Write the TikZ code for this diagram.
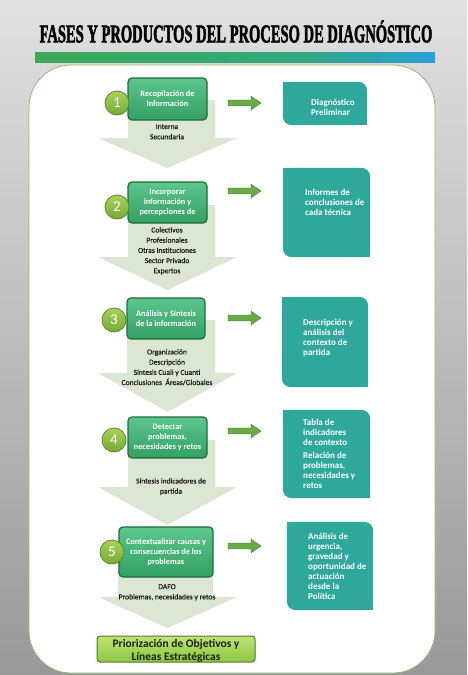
\documentclass[tikz,border=0pt]{standalone}
\usepackage{graphicx}
\usepackage{fontspec}
\setmainfont{Carlito}
\newfontfamily\titlefont[FakeBold=2.6]{Liberation Serif}
\newfontfamily\semib[FakeBold=0.35]{Carlito}
\definecolor{tealc}{HTML}{2FA89C}
\definecolor{arrowc}{HTML}{DCE7D3}
\definecolor{stepfill}{HTML}{33A064}
\definecolor{steptop}{HTML}{5CC68C}
\definecolor{stepdraw}{HTML}{1E6B3C}
\definecolor{rgreen}{HTML}{6AAB48}
\definecolor{rgreendraw}{HTML}{4C8B36}
\definecolor{panelb}{HTML}{8DBB6E}
\definecolor{limetop}{HTML}{BDE575}
\definecolor{limebot}{HTML}{8CC63F}
\definecolor{limedraw}{HTML}{4F7F24}
\definecolor{circtop}{HTML}{A9D15A}
\definecolor{circbot}{HTML}{76AA34}
\definecolor{circdraw}{HTML}{5B8A2A}
\definecolor{bargreen}{HTML}{3AA855}
\definecolor{barmid}{HTML}{2FA87C}
\definecolor{barblue}{HTML}{2A9ED8}
\newcommand\dnarrow[5]{\fill[arrowc] (#1,#3) -- (#2,#3) -- (#2,#4) -- (237,#4) -- (167.5,#5) -- (98,#4) -- (#1,#4) -- cycle;}
\newcommand\rtarrow[1]{\filldraw[fill=rgreen, draw=rgreendraw, line width=.5] (228,#1-2.8) -- (251,#1-2.8) -- (251,#1-6.8) -- (261,#1) -- (251,#1+6.8) -- (251,#1+2.8) -- (228,#1+2.8) -- cycle;}
\newcommand\tealshape[1]{\fill[tealc, rounded corners=9] (#1.north west) rectangle (#1.south east);
  \fill[tealc] (#1.north west) rectangle ++(10,10);
  \fill[tealc] (#1.south east) rectangle ++(-10,-10);}
\begin{document}
\begin{tikzpicture}[x=1pt,y=-1pt,
  stepbox/.style={rounded corners=4pt, draw=stepdraw, line width=1.2pt, top color=steptop, bottom color=stepfill, text=white, font=\bfseries\fontsize{8.3}{10}\selectfont, align=center, inner sep=0pt},
  numcirc/.style={circle, minimum size=24, inner sep=0pt, draw=circdraw, line width=.8pt, top color=circtop, bottom color=circbot, text=white, font=\fontsize{15}{15}\selectfont},
  undertxt/.style={font=\semib\fontsize{7.6}{10.2}\selectfont, text=black!90, align=center, inner sep=0pt, anchor=north},
  tealbox/.style={inner sep=0pt},
  tealtxt/.style={font=\bfseries\fontsize{9}{10}\selectfont, text=white, align=left, inner sep=0pt, anchor=north west},
  finbox/.style={rounded corners=3pt, draw=limedraw, line width=1pt, top color=limetop, bottom color=limebot, text=black!88, font=\bfseries\fontsize{11.5}{13}\selectfont, align=center, inner sep=0pt}
]
\useasboundingbox (0,0) rectangle (467,675);
% background
\shade[top color=black!12, bottom color=black!40] (0,0) rectangle (467,675);
% title
\node[font=\titlefont\bfseries\fontsize{25.5}{25.5}\selectfont, inner sep=0pt] (title) at (236,31.5) {\scalebox{0.57}[1]{FASES Y PRODUCTOS DEL PROCESO DE DIAGNÓSTICO}};
% bar
\shade[left color=bargreen, right color=barmid] (35,52) rectangle (300,62);
\shade[left color=barmid, right color=barblue] (300,52) rectangle (435,62);
% panel
\draw[panelb, line width=.8pt, fill=white, rounded corners=42] (29,65) rectangle (435,673);
% down arrows
\dnarrow{128}{215}{100}{138}{168}
\dnarrow{128}{215}{205}{257}{290}
\dnarrow{127}{215}{320}{373}{412}
\dnarrow{128}{215}{440}{487}{525}
\dnarrow{118}{213}{555}{597}{628}
% step boxes
\node[stepbox, minimum width=79, minimum height=42] (s1) at (167.5,99) {Recopilación de\\Información};
\node[stepbox, minimum width=79, minimum height=41] (s2) at (167.5,202.5) {Incorporar\\información y\\percepciones de};
\node[stepbox, minimum width=78, minimum height=41] (s3) at (166,318.5) {Análisis y Síntesis\\de la información};
\node[stepbox, minimum width=79, minimum height=41] (s4) at (167.5,437.5) {Detectar\\problemas,\\necesidades y retos};
\node[stepbox, minimum width=94, minimum height=50] (s5) at (166,552) {Contextualizar causas y\\consecuencias de los\\problemas};
% circles
\node[numcirc] (c1) at (117,103) {1};
\node[numcirc] (c2) at (117,207) {2};
\node[numcirc] (c3) at (114,320) {3};
\node[numcirc] (c4) at (114,440) {4};
\node[numcirc] (c5) at (112,552) {5};
% texts under
\node[undertxt] (u1) at (167,124) {Interna\\Secundaria};
\node[undertxt] (u2) at (167,227) {Colectivos\\Profesionales\\Otras Instituciones\\Sector Privado\\Expertos};
\node[undertxt] (u3) at (167,349) {Organización\\Descripción\\Síntesis Cuali y Cuanti\\Conclusiones\ \ Áreas/Globales};
\node[undertxt] (u4) at (171,478) {Síntesis indicadores de\\partida};
\node[undertxt] (u5) at (167,584) {DAFO\\Problemas, necesidades y retos};
% teal boxes
\node[tealbox, minimum width=84, minimum height=43] (t1) at (325,103.5) {};
\node[tealbox, minimum width=87, minimum height=89] (t2) at (326.5,212.5) {};
\node[tealbox, minimum width=86, minimum height=90] (t3) at (325,342) {};
\node[tealbox, minimum width=87, minimum height=88] (t4) at (326.5,454) {};
\node[tealbox, minimum width=86, minimum height=88] (t5) at (330,566) {};
\tealshape{t1}\tealshape{t2}\tealshape{t3}\tealshape{t4}\tealshape{t5}
\node[tealtxt] (tt1) at (311,98.5) {Diagnóstico\\Preliminar};
\node[tealtxt] (tt2) at (305,188.5) {Informes de\\conclusiones de\\cada técnica};
\node[tealtxt] (tt3) at (303,318.5) {Descripción y\\análisis del\\contexto de\\partida};
\node[tealtxt] (tt4) at (303,418.5) {Tabla de\\indicadores\\de contexto\\[3.5pt]Relación de\\problemas,\\necesidades y\\retos};
\node[tealtxt] (tt5) at (308,532.5) {Análisis de\\urgencia,\\gravedad y\\oportunidad de\\actuación\\desde la\\Política};
% right arrows
\rtarrow{103}
\rtarrow{191}
\rtarrow{318}
\rtarrow{431}
\rtarrow{546}
% final box
\node[finbox, minimum width=158, minimum height=26] (fin) at (176,649) {};
\node[font=\bfseries\fontsize{11.5}{13}\selectfont, text=black!88, align=center, inner sep=0pt] (fint) at (176,651) {Priorización de Objetivos y\\Líneas Estratégicas};
\end{tikzpicture}
\end{document}
